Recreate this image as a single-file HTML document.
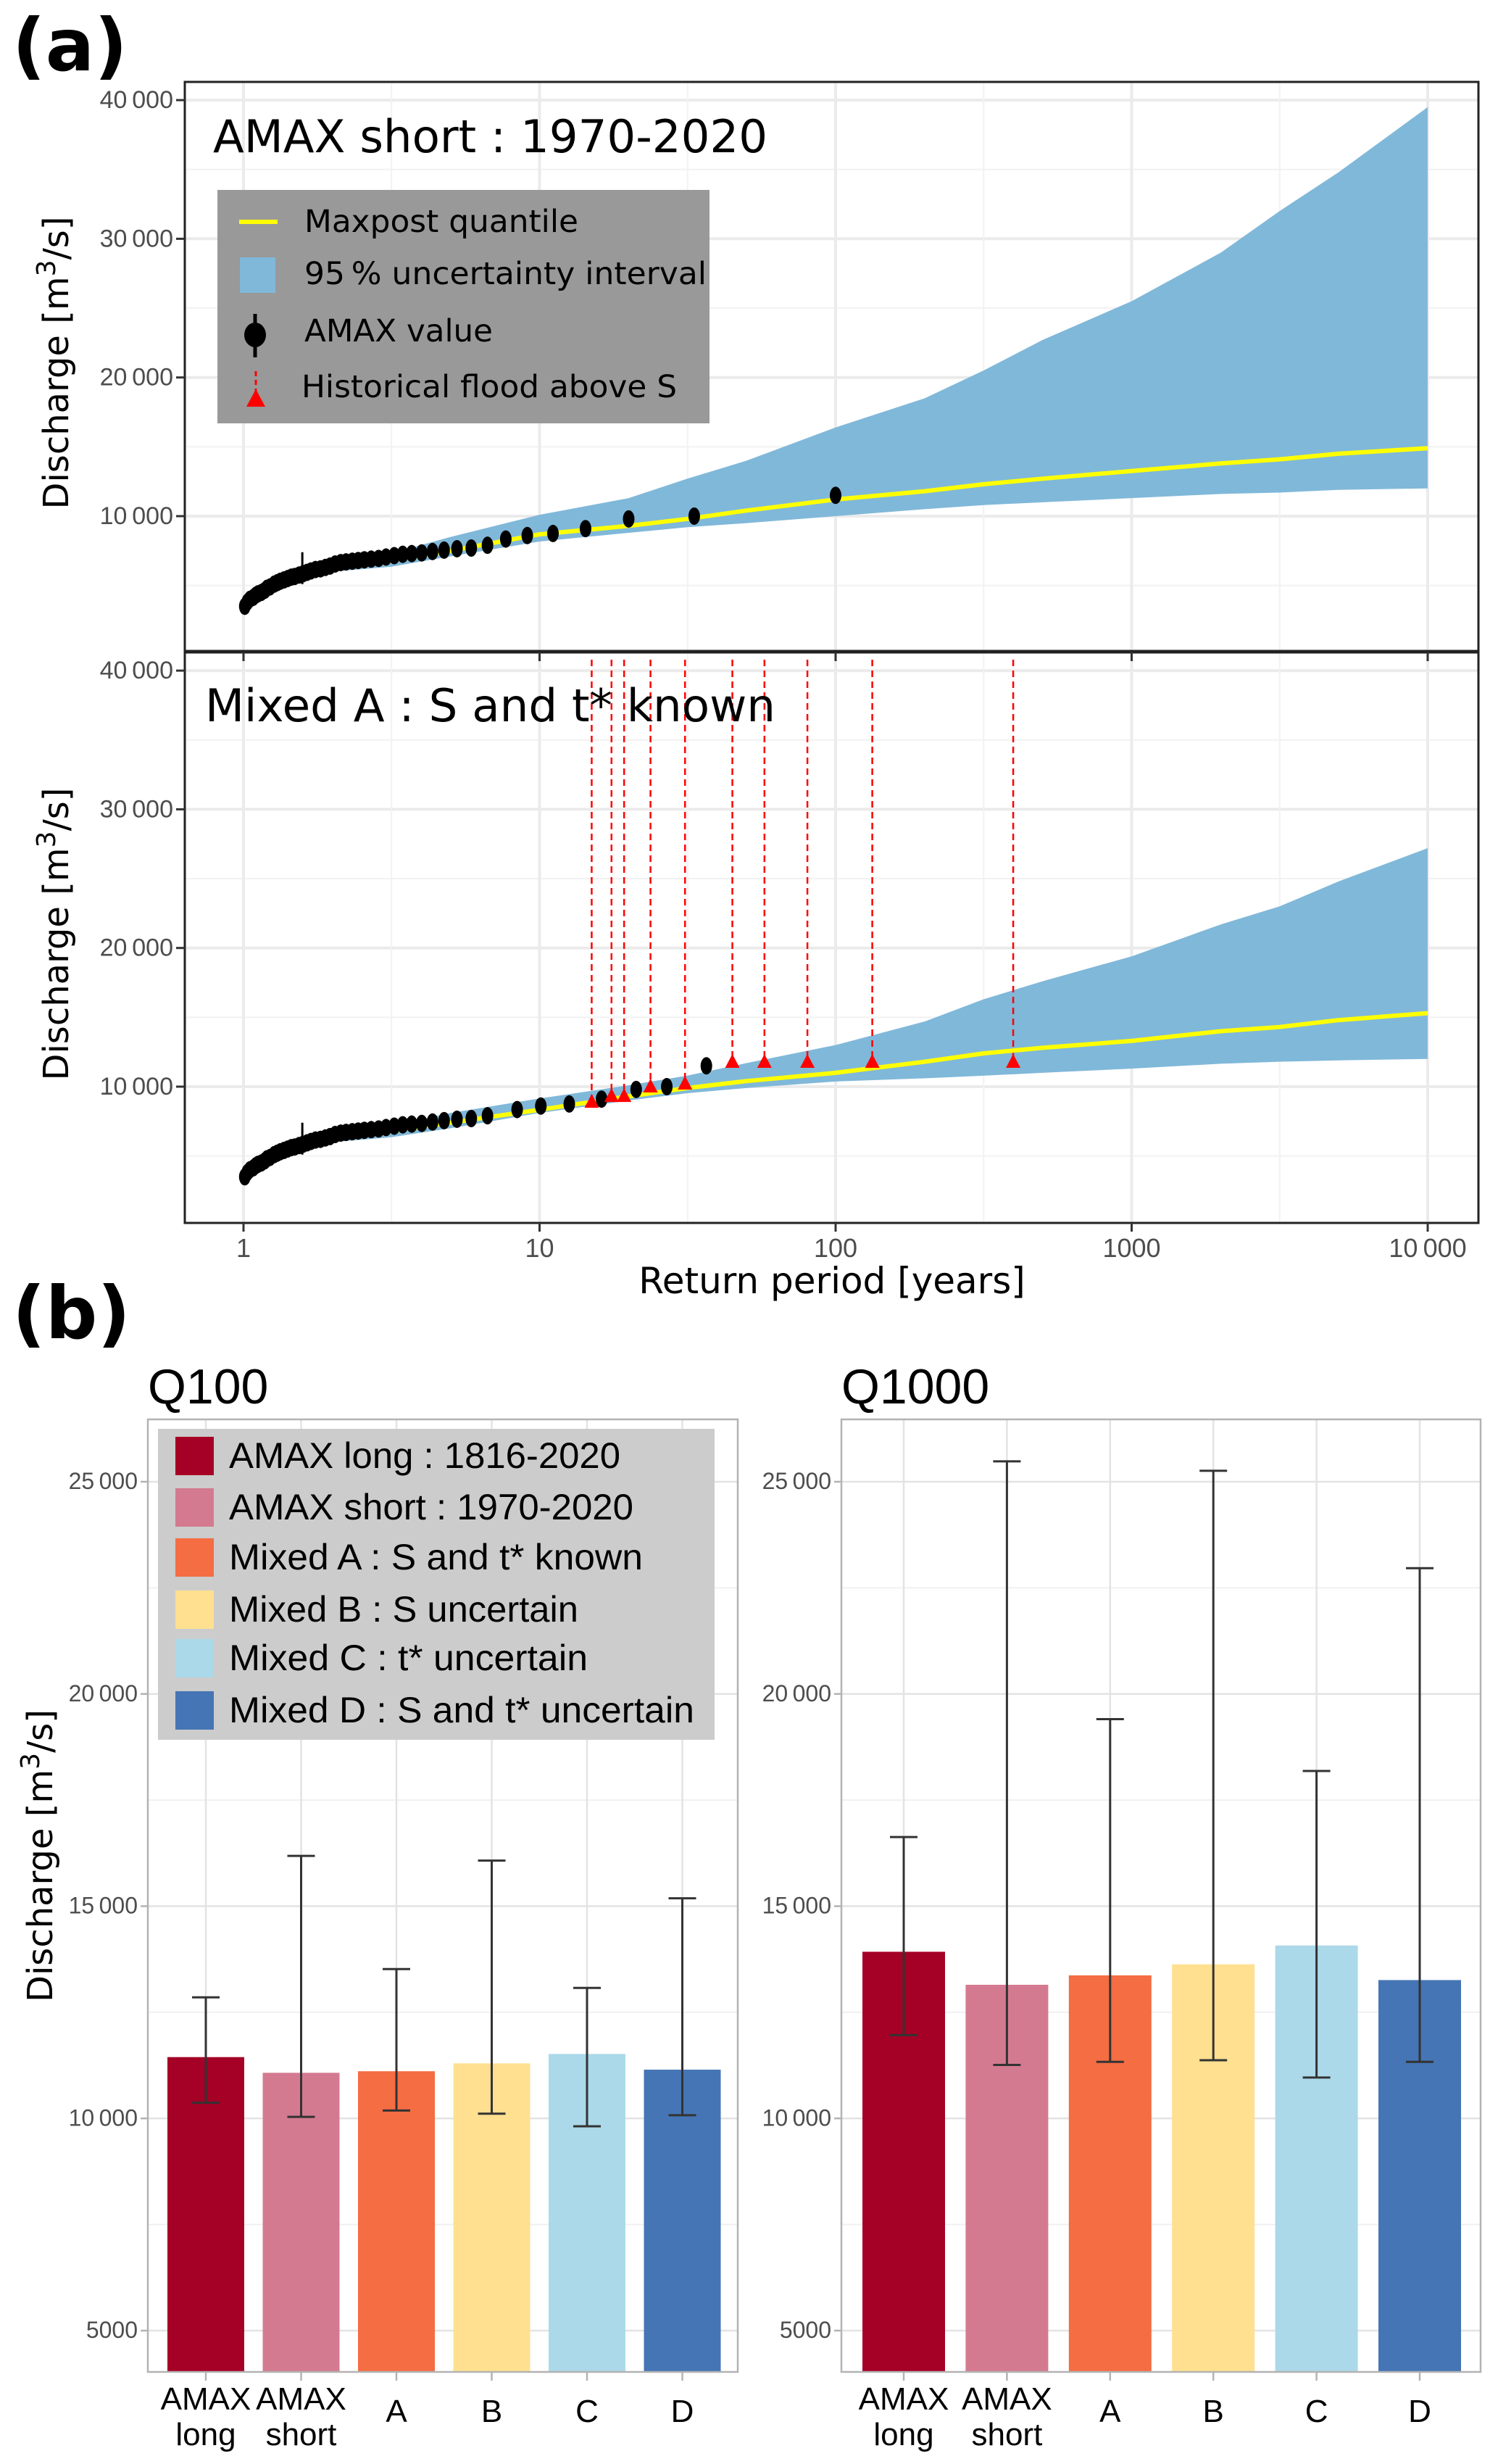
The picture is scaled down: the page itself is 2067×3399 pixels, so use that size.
<!DOCTYPE html>
<html><head><meta charset="utf-8"><style>
html,body{margin:0;padding:0;background:#fff;}
svg{display:block;}
.t{font-family:"DejaVu Sans","Liberation Sans",sans-serif;}
.n{font-family:"Liberation Sans Narrow","Liberation Sans",sans-serif;}
</style></head><body>
<svg id="fig" xmlns="http://www.w3.org/2000/svg" width="2067" height="3399" viewBox="0 0 2067 3399">
<rect x="0" y="0" width="2067" height="3399" fill="#fff"/>
<g id="gA"></g>
<g id="gB"></g>
</svg>
<script>
// ---------- data panel (a) ----------
const gridT = [1.1, 1.5, 2, 3.16, 5, 10, 20, 31.6, 50, 100, 200, 316, 500, 1000, 2000, 3162, 5000, 10000];
const topMax = [4300, 5600, 6300, 6800, 7500, 8690, 9300, 9800, 10400, 11200, 11800, 12300, 12700, 13250, 13800, 14100, 14500, 14900];
const topUp  = [4500, 5900, 6700, 7330, 8500, 10100, 11300, 12700, 14000, 16400, 18500, 20500, 22700, 25500, 29000, 32000, 34800, 39500];
const topLo  = [4100, 5400, 6000, 6350, 7100, 8170, 8800, 9200, 9500, 10000, 10500, 10800, 11000, 11300, 11600, 11700, 11900, 12000];
const botMax = [4300, 5600, 6300, 6800, 7400, 8330, 9300, 9900, 10400, 11000, 11800, 12400, 12800, 13300, 14000, 14300, 14800, 15300];
const botUp  = [4500, 5900, 6700, 7200, 8100, 9150, 10100, 10800, 11700, 13000, 14700, 16300, 17600, 19400, 21700, 23000, 24800, 27200];
const botLo  = [4100, 5400, 6000, 6350, 7000, 8100, 9000, 9530, 9900, 10370, 10600, 10790, 11000, 11300, 11650, 11800, 11900, 12000];
const amaxQ = [11500,10000,9800,9100,8750,8600,8350,7900,7700,7650,7550,7450,7350,7300,7250,7150,7050,6950,6900,6850,6800,6750,6700,6650,6550,6400,6300,6200,6150,6050,5950,5850,5750,5650,5600,5500,5400,5300,5200,5100,4900,4800,4650,4500,4400,4300,4150,4000,3800,3500];
const amaxTtop = [100,33.3,20,14.3,11.1,9.09,7.69,6.67,5.88,5.26,4.76,4.35,4.0,3.70,3.45,3.23,3.03,2.86,2.70,2.56,2.44,2.33,2.22,2.13,2.04,1.96,1.89,1.82,1.75,1.69,1.64,1.59,1.54,1.49,1.45,1.41,1.37,1.33,1.30,1.27,1.23,1.20,1.18,1.15,1.12,1.10,1.08,1.05,1.03,1.01];
const amaxTbot = [36.6,26.9,21.2,16.2,12.6,10.1,8.4,6.67,5.88,5.26,4.76,4.35,4.0,3.70,3.45,3.23,3.03,2.86,2.70,2.56,2.44,2.33,2.22,2.13,2.04,1.96,1.89,1.82,1.75,1.69,1.64,1.59,1.54,1.49,1.45,1.41,1.37,1.33,1.30,1.27,1.23,1.20,1.18,1.15,1.12,1.10,1.08,1.05,1.03,1.01];
const histT = [15.0,17.5,19.3,23.7,31.0,44.8,57.5,80.3,133,398];
const histQ = [8740,9160,9160,9840,10050,11620,11620,11620,11620,11620];
const xTickVals = [1,10,100,1000,10000];
const xTickLabels = ["1","10","100","1000","10\u2009000"];
const yTickVals = [10000,20000,30000,40000];
const yTickLabels = ["10\u2009000","20\u2009000","30\u2009000","40\u2009000"];
// ---------- data panel (b) ----------
const cats = ["AMAX long","AMAX short","A","B","C","D"];
const catColors = ["#a50026","#d47a90","#f46d43","#fee090","#abd9e9","#4575b4"];
const q100 = [11444,11074,11111,11296,11518,11148];
const q100lo = [10370,10037,10185,10111,9815,10074];
const q100hi = [12852,16185,13518,16074,13074,15185];
const q1000 = [13926,13148,13370,13630,14074,13259];
const q1000lo = [11963,11259,11333,11370,10963,11333];
const q1000hi = [16630,25481,19407,25259,18185,22963];
const bTickVals = [5000,10000,15000,20000,25000];
const bTickLabels = ["5000","10\u2009000","15\u2009000","20\u2009000","25\u2009000"];
const legB = ["AMAX long : 1816-2020","AMAX short : 1970-2020","Mixed A : S and t* known","Mixed B : S uncertain","Mixed C : t* uncertain","Mixed D : S and t* uncertain"];
const legBw = [540,558,571,482,495,642];

const NS="http://www.w3.org/2000/svg";
function mk(parent,tag,attrs,text){const e=document.createElementNS(NS,tag);for(const k in attrs)e.setAttribute(k,attrs[k]);if(text!==undefined)e.textContent=text;parent.appendChild(e);return e;}

const gA=document.getElementById('gA');
const gB=document.getElementById('gB');
const xA = T => 336 + 408.5*Math.log10(T);
const PL=255, PR=2040;

mk(gA,'text',{x:17,y:97,'font-size':100,'font-weight':'bold',class:'t',},'(a)');

function facet(top,bot,y10k,title,titleY,titleW,maxA,upA,loA,amT,withHist,name){
  const yv = v => y10k - (v-10000)*0.01913;
  const g=mk(gA,'g',{});
  const clipId='clip'+name;
  const cp=mk(g,'clipPath',{id:clipId}); mk(cp,'rect',{x:PL,y:top,width:PR-PL,height:bot-top});
  const grid=mk(g,'g',{'clip-path':`url(#${clipId})`});
   
  for(let v=5000; v<=45000; v+=10000){mk(grid,'line',{x1:PL,x2:PR,y1:yv(v),y2:yv(v),stroke:'#f2f2f2','stroke-width':2});}
  yTickVals.forEach(v=>mk(grid,'line',{x1:PL,x2:PR,y1:yv(v),y2:yv(v),stroke:'#ebebeb','stroke-width':4}));
  [0.5,1.5,2.5,3.5].forEach(e=>mk(grid,'line',{x1:xA(Math.pow(10,e)),x2:xA(Math.pow(10,e)),y1:top,y2:bot,stroke:'#f2f2f2','stroke-width':2}));
  xTickVals.forEach(t=>mk(grid,'line',{x1:xA(t),x2:xA(t),y1:top,y2:bot,stroke:'#ebebeb','stroke-width':4}));
  let d='';
  gridT.forEach((t,i)=>{d+=(i?'L':'M')+xA(t).toFixed(1)+','+yv(upA[i]).toFixed(1);});
  for(let i=gridT.length-1;i>=0;i--){d+='L'+xA(gridT[i]).toFixed(1)+','+yv(loA[i]).toFixed(1);}
  const band=mk(g,'path',{d:d+'Z',fill:'#80b8d9','clip-path':`url(#${clipId})`});
   
  if(withHist){
    histT.forEach((t,i)=>{const l=mk(g,'line',{x1:xA(t),x2:xA(t),y1:top+10,y2:yv(histQ[i]),stroke:'#ff0000','stroke-width':2.5,'stroke-dasharray':'9,6'});
       });
  }
  let dl='';gridT.forEach((t,i)=>{dl+=(i?'L':'M')+xA(t).toFixed(1)+','+yv(maxA[i]).toFixed(1);});
  const ml=mk(g,'path',{d:dl,fill:'none',stroke:'#ffff00','stroke-width':6,'stroke-linejoin':'round'});
   
  const es=mk(g,'line',{x1:xA(1.58),x2:xA(1.58),y1:yv(7400),y2:yv(5100),stroke:'#000','stroke-width':3});
   
  amT.forEach((t,i)=>{const p=mk(g,'ellipse',{cx:xA(t),cy:yv(amaxQ[i]),rx:8,ry:12,fill:'#000'});
     });
  if(withHist){
    histT.forEach((t,i)=>{const x=xA(t),y=yv(histQ[i]);
      const tr=mk(g,'polygon',{points:`${x},${y-14} ${x-10},${y+5} ${x+10},${y+5}`,fill:'#ff0000'});
       });
  }
  mk(g,'rect',{x:PL,y:top,width:PR-PL,height:bot-top,fill:'none',stroke:'#222','stroke-width':3});
  yTickVals.forEach((v,i)=>{
    mk(g,'line',{x1:PL-12,x2:PL,y1:yv(v),y2:yv(v),stroke:'#333','stroke-width':3});
    const tl=mk(g,'text',{x:PL-16,y:yv(v)+11,'font-size':34,'text-anchor':'end',fill:'#4d4d4d',class:'n'},yTickLabels[i]);
     
  });
  const tt=mk(g,'text',{x:titleY[0],y:titleY[1],'font-size':62,class:'t',textLength:titleW,lengthAdjust:'spacingAndGlyphs'},title);
   
  const cy=(top+bot)/2;
  const yt=mk(g,'text',{x:0,y:0,'font-size':48,class:'t','text-anchor':'middle',transform:`translate(94,${cy-5}) rotate(-90)`});
   
  mk(yt,'tspan',{},'Discharge [m');
  mk(yt,'tspan',{dy:-18,'font-size':36},'3');
  mk(yt,'tspan',{dy:18},'/s]');
  return yv;
}
facet(113,898,712,'AMAX short : 1970-2020',[294,210],765,topMax,topUp,topLo,amaxTtop,false,'facet-amax-short');
facet(900,1687,1499,'Mixed A : S and t* known',[283,995],787,botMax,botUp,botLo,amaxTbot,true,'facet-mixed-a');

xTickVals.forEach((t,i)=>{
  mk(gA,'line',{x1:xA(t),x2:xA(t),y1:1687,y2:1699,stroke:'#333','stroke-width':3});
  mk(gA,'line',{x1:xA(t),x2:xA(t),y1:900,y2:912,stroke:'#333','stroke-width':3});
  const tl=mk(gA,'text',{x:xA(t),y:1734,'font-size':36,'text-anchor':'middle',fill:'#4d4d4d',class:'n'},xTickLabels[i]);
   
});
mk(gA,'text',{x:1148,y:1784,'font-size':50,'text-anchor':'middle',class:'t',},'Return period [years]');

const lg=mk(gA,'g',{});
 
mk(lg,'rect',{x:300,y:262,width:679,height:322,fill:'#999999'});
mk(lg,'line',{x1:330,x2:383,y1:306,y2:306,stroke:'#ffff00','stroke-width':6});
mk(lg,'rect',{x:331,y:355,width:49,height:49,fill:'#80b8d9'});
mk(lg,'line',{x1:352,x2:352,y1:433,y2:493,stroke:'#000','stroke-width':5});
mk(lg,'ellipse',{cx:352,cy:462,rx:15,ry:17,fill:'#000'});
mk(lg,'line',{x1:353,x2:353,y1:512,y2:540,stroke:'#ff0000','stroke-width':3,'stroke-dasharray':'7,5'});
mk(lg,'polygon',{points:'353,537 340,561 366,561',fill:'#ff0000'});
[['Maxpost quantile',320,378],['95\u2009% uncertainty interval',392,555],['AMAX value',471,260],['Historical flood above S',548,518]].forEach((e,i)=>{
  const t=mk(lg,'text',{x:i==3?416:420,y:e[1],'font-size':43,class:'t',textLength:e[2],lengthAdjust:'spacingAndGlyphs'},e[0]);
   
});

// ---------- panel (b) ----------
mk(gB,'text',{x:17,y:1846,'font-size':100,'font-weight':'bold',class:'t',},'(b)');
const yB = v => 2044 + (25000-v)*0.05855;
const BT=1958, BB=3272;
function barPanel(L,R,c0,step,bw,vals,lo,hi,title,name){
  const g=mk(gB,'g',{});
  const cx = i => c0 + step*i;
  for(let v=7500; v<=25000; v+=5000) mk(g,'line',{x1:L,x2:R,y1:yB(v),y2:yB(v),stroke:'#f0f0f0','stroke-width':2});
  bTickVals.forEach(v=>mk(g,'line',{x1:L,x2:R,y1:yB(v),y2:yB(v),stroke:'#e3e3e3','stroke-width':2.5}));
  cats.forEach((c,i)=>mk(g,'line',{x1:cx(i),x2:cx(i),y1:BT,y2:BB,stroke:'#e3e3e3','stroke-width':2.5}));
  vals.forEach((v,i)=>{
    const b=mk(g,'rect',{x:cx(i)-bw/2,y:yB(v),width:bw,height:BB-yB(v),fill:catColors[i]});
     
  });
  vals.forEach((v,i)=>{
    const e=mk(g,'g',{stroke:'#333','stroke-width':3});
     
    mk(e,'line',{x1:cx(i),x2:cx(i),y1:yB(hi[i]),y2:yB(lo[i])});
    mk(e,'line',{x1:cx(i)-19,x2:cx(i)+19,y1:yB(hi[i]),y2:yB(hi[i])});
    mk(e,'line',{x1:cx(i)-19,x2:cx(i)+19,y1:yB(lo[i]),y2:yB(lo[i])});
  });
  mk(g,'rect',{x:L,y:BT,width:R-L,height:BB-BT,fill:'none',stroke:'#b3b3b3','stroke-width':2.5});
  bTickVals.forEach((v,i)=>{
    mk(g,'line',{x1:L-10,x2:L,y1:yB(v),y2:yB(v),stroke:'#b3b3b3','stroke-width':2.5});
    const t=mk(g,'text',{x:L-14,y:yB(v)+10,'font-size':32,'text-anchor':'end',fill:'#4d4d4d',class:'n'},bTickLabels[i]);
     
  });
  cats.forEach((c,i)=>{
    mk(g,'line',{x1:cx(i),x2:cx(i),y1:BB,y2:BB+12,stroke:'#b3b3b3','stroke-width':2.5});
    const parts=c.split(' ');
    if(parts.length==2){
      const t1=mk(g,'text',{x:cx(i),y:3324,'font-size':44,'text-anchor':'middle',class:'n'},parts[0]);
       
      const t2=mk(g,'text',{x:cx(i),y:3373,'font-size':44,'text-anchor':'middle',class:'n'},parts[1]);
       
    } else {
      const t=mk(g,'text',{x:cx(i),y:3341,'font-size':44,'text-anchor':'middle',class:'n'},c);
       
    }
  });
  const tt=mk(g,'text',{x:L,y:1936,'font-size':68,class:'n'},title);
   
}
barPanel(204,1018,284,131.5,106,q100,q100lo,q100hi,'Q100','q100-panel');
barPanel(1161,2043,1247,142.4,114,q1000,q1000lo,q1000hi,'Q1000','q1000-panel');

const ybt=mk(gB,'text',{x:0,y:0,'font-size':48,class:'t','text-anchor':'middle',transform:'translate(72,2560) rotate(-90)'});
 
mk(ybt,'tspan',{},'Discharge [m'); mk(ybt,'tspan',{dy:-18,'font-size':36},'3'); mk(ybt,'tspan',{dy:18},'/s]');

const lgb=mk(gB,'g',{});
 
mk(lgb,'rect',{x:218,y:1971,width:768,height:429,fill:'#cccccc'});
const rowsY=[2008,2079,2148,2220,2287,2359];
legB.forEach((s,i)=>{
  mk(lgb,'rect',{x:242,y:rowsY[i]-26,width:53,height:53,fill:catColors[i]});
  const t=mk(lgb,'text',{x:316,y:rowsY[i]+17,'font-size':50,class:'n',textLength:legBw[i],lengthAdjust:'spacingAndGlyphs'},s);
   
});
</script>
</body></html>
